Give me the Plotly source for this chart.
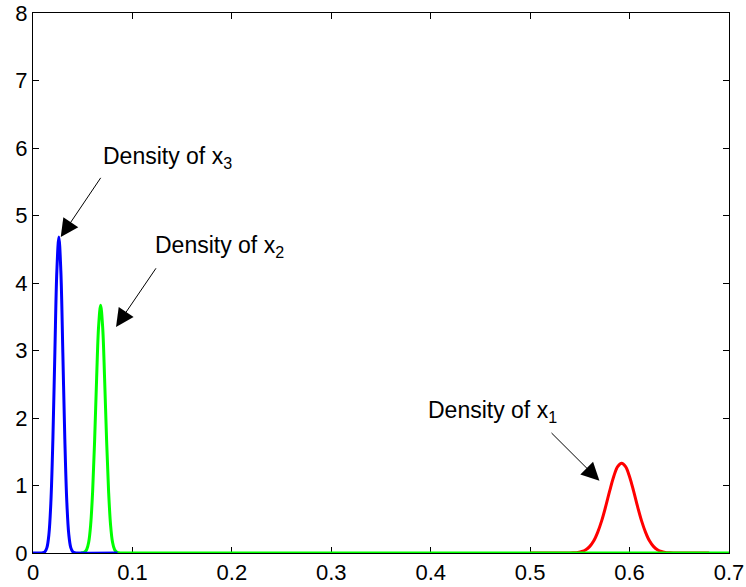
import plotly.graph_objects as go

# Density of x3 (blue)
x3_x = [0.0, 0.008, 0.010, 0.012, 0.014, 0.016, 0.018, 0.020, 0.022, 0.024, 0.026,
        0.028, 0.030, 0.032, 0.034, 0.036, 0.038, 0.040, 0.042, 0.044, 0.085]
x3_y = [0.0, 0.0, 0.003, 0.018, 0.079, 0.275, 0.76, 1.69, 2.97, 4.18, 4.68,
        4.18, 2.97, 1.69, 0.76, 0.275, 0.079, 0.018, 0.003, 0.0, 0.0]

# Density of x2 (green)
x2_x = [0.048, 0.050, 0.052, 0.054, 0.056, 0.058, 0.060, 0.062, 0.064, 0.066, 0.068,
        0.070, 0.072, 0.074, 0.076, 0.078, 0.080, 0.082, 0.084, 0.086, 0.088, 0.7]
x2_y = [0.0, 0.003, 0.014, 0.052, 0.16, 0.42, 0.92, 1.68, 2.59, 3.36, 3.67,
        3.36, 2.59, 1.68, 0.92, 0.42, 0.16, 0.052, 0.014, 0.003, 0.0, 0.0]

# Density of x1 (red)
x1_x = [0.50, 0.540, 0.544, 0.548, 0.552, 0.556, 0.560, 0.564, 0.568, 0.572, 0.576, 0.580,
        0.584, 0.588, 0.592, 0.596, 0.600, 0.604, 0.608, 0.612, 0.616, 0.620,
        0.624, 0.628, 0.632, 0.636, 0.640, 0.644, 0.68]
x1_y = [0.0, 0.0, 0.004, 0.0095, 0.022, 0.049, 0.098, 0.18, 0.31, 0.48, 0.69, 0.92,
        1.13, 1.28, 1.33, 1.28, 1.13, 0.92, 0.69, 0.48, 0.31, 0.18,
        0.098, 0.049, 0.022, 0.0095, 0.004, 0.0, 0.0]

x_ticks = [0, 0.1, 0.2, 0.3, 0.4, 0.5, 0.6, 0.7]
x_tick_labels = ["0", "0.1", "0.2", "0.3", "0.4", "0.5", "0.6", "0.7"]
y_ticks = [0, 1, 2, 3, 4, 5, 6, 7, 8]

labels = ["Density of x<sub>1</sub>", "Density of x<sub>2</sub>", "Density of x<sub>3</sub>"]

fig = go.Figure()
fig.add_trace(go.Scatter(x=x1_x, y=x1_y, mode="lines", line=dict(color="#ff0000", width=3, shape="spline"), showlegend=False))
fig.add_trace(go.Scatter(x=x2_x, y=x2_y, mode="lines", line=dict(color="#00ff00", width=3, shape="spline"), showlegend=False))
fig.add_trace(go.Scatter(x=x3_x, y=x3_y, mode="lines", line=dict(color="#0000ff", width=3, shape="spline"), showlegend=False))

FONT_FAMILY = "Liberation Sans, Arial, sans-serif"
font = dict(family=FONT_FAMILY, size=23, color="black")

# text labels
text_pos = [(0.395, 2.10), (0.121, 4.54), (0.068, 5.86)]
for (tx, ty), lab in zip(text_pos, labels):
    fig.add_annotation(x=tx, y=ty, text=lab, showarrow=False, xanchor="left", yanchor="middle", font=font)

# arrows (tail -> tip)
arrows = [((0.520, 1.80), (0.5697, 1.07)),
          ((0.1247, 4.24), (0.0835, 3.35)),
          ((0.0691, 5.58), (0.0279, 4.68))]
for (ax_, ay_), (hx, hy) in arrows:
    fig.add_annotation(x=hx, y=hy, ax=ax_, ay=ay_, xref="x", yref="y", axref="x", ayref="y",
                       text="", showarrow=True, arrowhead=2, arrowsize=3.6, arrowwidth=1, arrowcolor="black")

axis_common = dict(showline=True, linecolor="black", linewidth=1, mirror="ticks", ticks="inside",
                   ticklen=6, tickcolor="black", showgrid=False, zeroline=False,
                   tickfont=dict(family=FONT_FAMILY, size=22, color="black"),
                   layer="below traces", automargin=False, ticklabeloverflow="allow")

fig.update_xaxes(range=[0, 0.7], tickvals=x_ticks, ticktext=x_tick_labels, **axis_common)
fig.update_yaxes(range=[0, 8], tickvals=y_ticks, **axis_common)

fig.update_layout(width=746, height=587, margin=dict(l=33, r=17, t=13, b=34),
                  plot_bgcolor="white", paper_bgcolor="white")

fig.write_html("out.html", config={"displayModeBar": False},
               post_script="document.body.style.margin='0';")
